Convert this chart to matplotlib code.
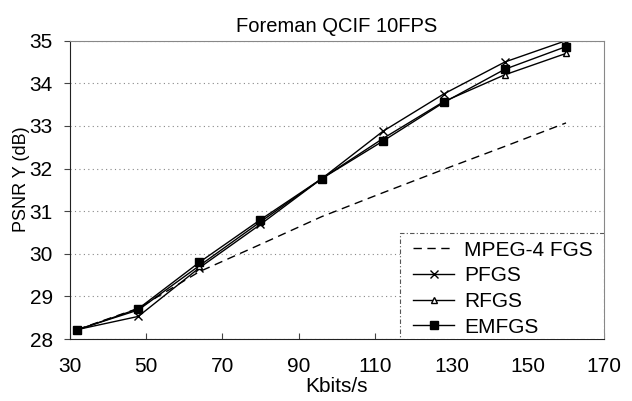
import matplotlib
matplotlib.use('Agg')
import matplotlib.pyplot as plt
from matplotlib.patches import Rectangle

plt.rcParams['font.family'] = ['Liberation Sans', 'DejaVu Sans']

# data
kbps = [32, 48, 64, 80, 96, 112, 128, 144, 160]
mpeg4_fgs = [28.22, 28.72, 29.58, 30.22, 30.87, 31.43, 31.98, 32.52, 33.07]
pfgs = [28.22, 28.53, 29.67, 30.69, 31.76, 32.87, 33.75, 34.5, 35.0]
rfgs = [28.22, 28.68, 29.72, 30.75, 31.76, 32.7, 33.57, 34.2, 34.7]
emfgs = [28.21, 28.71, 29.8, 30.8, 31.76, 32.64, 33.55, 34.33, 34.86]

xticks = [30, 50, 70, 90, 110, 130, 150, 170]
yticks = [28, 29, 30, 31, 32, 33, 34, 35]

fig = plt.figure(figsize=(6.32, 4.01), dpi=100)
ax = fig.add_axes([0.110, 0.1546, 0.846, 0.744])

ax.plot(kbps, mpeg4_fgs, color='black', ls=(0, (6, 4)), lw=1.0, label='MPEG-4 FGS')
ax.plot(kbps, pfgs, color='black', lw=1.0, marker='x', ms=6, mew=1.0, label='PFGS')
ax.plot(kbps, rfgs, color='black', lw=1.0, marker='^', ms=5, mfc='white', mew=1.0, label='RFGS')
ax.plot(kbps, emfgs, color='black', lw=1.0, marker='s', ms=6, label='EMFGS')

ax.set_xlim(30, 170)
ax.set_ylim(28, 35)
ax.set_xticks(xticks)
ax.set_yticks(yticks)
ax.tick_params(labelsize=15, color='#444444')
ax.tick_params(axis='x', direction='in', length=4, pad=13)
ax.tick_params(axis='y', direction='out', length=4, pad=8)
ax.yaxis.grid(True, ls=(0, (1, 3)), color='#888888', lw=0.8)
for s in ['top', 'right']:
    ax.spines[s].set_color('#888888')
for s in ['left', 'bottom']:
    ax.spines[s].set_color('#222222')

ax.set_title('Foreman QCIF 10FPS', fontsize=14.5, pad=6)
ax.set_xlabel('Kbits/s', fontsize=15, labelpad=1)
ax.set_ylabel('PSNR Y (dB)', fontsize=13)
ax.yaxis.set_label_coords(-0.074, 0.537)

# legend frame: white box with a dash-dot border in the lower right corner
box = Rectangle((0.618, 0.0), 0.382, 0.355, transform=ax.transAxes,
                facecolor='white', edgecolor='#555555', lw=0.8,
                ls=(0, (4, 2, 1, 2)), zorder=4)
ax.add_patch(box)

leg = ax.legend(loc='lower right', bbox_to_anchor=(0.984, 0.0), fontsize=15,
                frameon=False, borderaxespad=0.0, handlelength=2.0,
                labelspacing=0.32, borderpad=0.12, handletextpad=0.48)
leg.set_zorder(5)

fig.savefig('out.png', dpi=100)
